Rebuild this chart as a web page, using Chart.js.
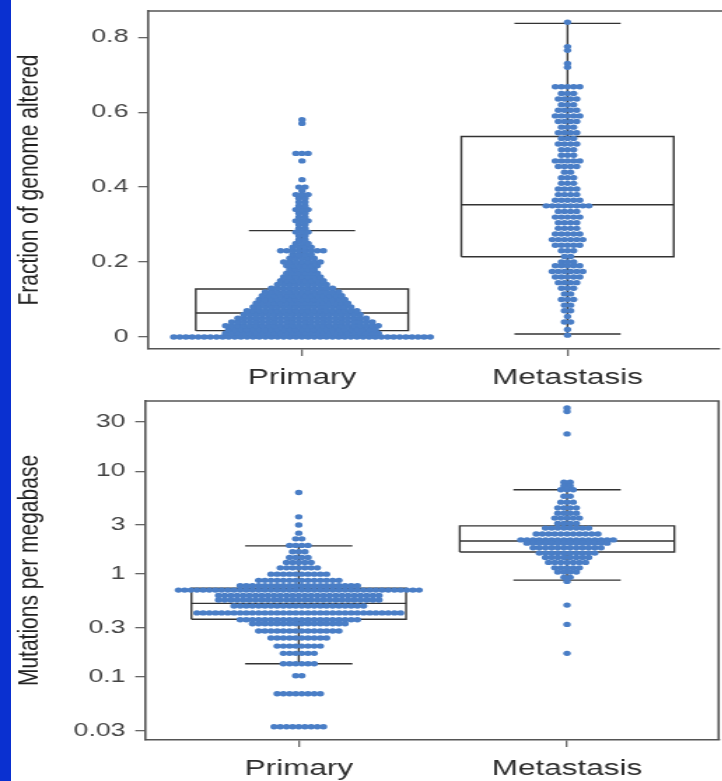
<!DOCTYPE html>
<html>
<head>
<meta charset="utf-8">
<script src="https://cdn.jsdelivr.net/npm/chart.js@4"></script>
<style>
  html, body { margin: 0; padding: 0; background: #fff; overflow: hidden; }
  #page { position: relative; width: 722px; height: 781px; overflow: hidden; background: #fff; }
  #strip { position: absolute; left: 0; top: 0; width: 11px; height: 781px; background: #0a30d0; z-index: 2; }
  /* the reference picture is stretched sideways, so the panels are too */
  .panel { position: absolute; left: 0; transform: scaleX(1.4); transform-origin: 0 0; }
  #top { top: 0; }
  #bottom { top: 390px; }
</style>
</head>
<body>
<div id="page">
  <div class="panel" id="top"><canvas id="fga" width="516" height="392"></canvas></div>
  <div class="panel" id="bottom"><canvas id="tmb" width="516" height="391"></canvas></div>
  <div id="strip"></div>
</div>
<script>
const groups = ['Primary', 'Metastasis'];

// rows of the dot plots: [value, number of samples at that value]
const fgaPrimary = [
  [0, 43], [0.01, 26], [0.02, 25], [0.03, 26], [0.04, 24], [0.05, 22], [0.06, 20],
  [0.07, 19], [0.08, 17], [0.09, 16], [0.10, 15], [0.11, 14], [0.12, 13], [0.13, 11],
  [0.14, 9], [0.15, 8], [0.16, 7], [0.17, 6], [0.18, 5], [0.19, 6], [0.20, 7],
  [0.21, 5], [0.22, 4], [0.23, 8], [0.24, 4], [0.25, 3], [0.26, 2], [0.27, 2],
  [0.28, 3], [0.29, 2], [0.30, 2], [0.31, 3], [0.32, 2], [0.33, 2], [0.34, 3],
  [0.35, 2], [0.36, 2], [0.37, 2], [0.38, 3], [0.39, 1], [0.40, 2], [0.42, 1],
  [0.47, 1], [0.49, 3], [0.57, 1], [0.58, 1]
];
const fgaMetastasis = [
  [0.005, 1], [0.02, 1], [0.04, 2], [0.055, 1], [0.07, 2], [0.085, 2], [0.10, 3],
  [0.115, 2], [0.13, 3], [0.145, 4], [0.16, 5], [0.175, 6], [0.19, 5], [0.20, 3],
  [0.215, 2], [0.23, 3], [0.245, 5], [0.26, 6], [0.275, 5], [0.29, 4], [0.305, 4],
  [0.32, 5], [0.335, 4], [0.35, 8], [0.365, 5], [0.38, 4], [0.395, 4], [0.41, 3],
  [0.425, 3], [0.44, 2], [0.455, 4], [0.47, 5], [0.485, 3], [0.50, 3], [0.515, 4],
  [0.53, 3], [0.545, 4], [0.56, 3], [0.575, 4], [0.59, 5], [0.605, 4], [0.62, 3],
  [0.635, 4], [0.65, 3], [0.668, 5], [0.72, 1], [0.73, 1], [0.765, 1], [0.775, 1],
  [0.84, 1]
];
// box plots: [lower whisker, q1, median, q3, upper whisker]
const fgaBoxPrimary = [0, 0.017, 0.064, 0.128, 0.284];
const fgaBoxMetastasis = [0.008, 0.214, 0.353, 0.535, 0.837];
const fgaTicks = [0, 0.2, 0.4, 0.6, 0.8];

const tmbPrimary = [
  [6.2, 1], [3.6, 1], [3.0, 1], [2.5, 1], [2.2, 2], [1.9, 4], [1.65, 3], [1.45, 4],
  [1.3, 5], [1.15, 7], [1.0, 10], [0.87, 14], [0.77, 20], [0.70, 40], [0.62, 27],
  [0.56, 27], [0.49, 22], [0.42, 34], [0.36, 20], [0.33, 16], [0.28, 14], [0.24, 10],
  [0.20, 8], [0.17, 6], [0.135, 6], [0.103, 2], [0.069, 8], [0.033, 9]
];
const tmbMetastasis = [
  [41, 1], [38, 1], [23, 1], [7.8, 2], [7.2, 2], [6.6, 3], [5.7, 2], [5.0, 3],
  [4.4, 4], [3.9, 4], [3.5, 5], [3.1, 4], [2.8, 8], [2.45, 11], [2.15, 16], [2.0, 14],
  [1.8, 12], [1.6, 10], [1.45, 8], [1.3, 7], [1.15, 5], [1.05, 4], [0.93, 2],
  [0.85, 1], [0.5, 1], [0.325, 1], [0.17, 1]
];
const tmbBoxPrimary = [0.135, 0.364, 0.52, 0.73, 1.88];
const tmbBoxMetastasis = [0.874, 1.64, 2.10, 2.94, 6.6];
const tmbTicks = [0.03, 0.1, 0.3, 1, 3, 10, 30];

const FONT = "'Liberation Sans', Arial, sans-serif";
const DOT_STEP = 0.023;   // spacing of dots in a row, in category units
const BOX_HALF = 0.4;
const CAP_HALF = 0.2;

// lay each row out side by side around the category centre
const swarm = (rows, center) => rows.flatMap(([v, n]) =>
  Array.from({ length: n }, (_, i) => ({ x: center + (i - (n - 1) / 2) * DOT_STEP, y: v })));

const boxLines = (s, c) => {
  const [lo, q1, med, q3, hi] = s;
  const gap = { x: c, y: null };
  return [
    { x: c - BOX_HALF, y: q1 }, { x: c + BOX_HALF, y: q1 }, { x: c + BOX_HALF, y: q3 },
    { x: c - BOX_HALF, y: q3 }, { x: c - BOX_HALF, y: q1 }, gap,
    { x: c - BOX_HALF, y: med }, { x: c + BOX_HALF, y: med }, gap,
    { x: c, y: q3 }, { x: c, y: hi }, gap,
    { x: c - CAP_HALF, y: hi }, { x: c + CAP_HALF, y: hi }, gap,
    { x: c, y: q1 }, { x: c, y: lo }, gap,
    { x: c - CAP_HALF, y: lo }, { x: c + CAP_HALF, y: lo }
  ];
};

const framePlugin = {
  id: 'frame',
  afterDraw(chart, args, opts) {
    const { ctx, chartArea: a } = chart;
    ctx.save();
    ctx.strokeStyle = '#555';
    ctx.lineWidth = 1.6;
    ctx.beginPath();
    ctx.moveTo(a.left, a.top);
    if (opts.open) {
      ctx.lineTo(chart.width, a.top);
    } else {
      ctx.lineTo(a.right, a.top);
      ctx.lineTo(a.right, a.bottom);
    }
    ctx.stroke();
    ctx.restore();
  }
};

function makeChart(id, cfg) {
  const dotSets = [cfg.primary, cfg.metastasis].map((rows, i) => ({
    type: 'scatter',
    data: swarm(rows, i),
    pointRadius: 2.7,
    pointHoverRadius: 0,
    pointBorderWidth: 0,
    pointBackgroundColor: '#4a7ec6',
    order: 1
  }));
  const boxSets = [cfg.boxPrimary, cfg.boxMetastasis].map((s, i) => ({
    type: 'scatter',
    data: boxLines(s, i),
    showLine: true,
    spanGaps: false,
    pointRadius: 0,
    borderColor: '#333',
    borderWidth: 1.4,
    order: 2
  }));

  return new Chart(document.getElementById(id), {
    type: 'scatter',
    data: { datasets: [...boxSets, ...dotSets] },
    plugins: [framePlugin],
    options: {
      responsive: false,
      animation: false,
      events: [],
      layout: { padding: { top: 11, right: cfg.padRight, bottom: 0, left: 0 } },
      plugins: { legend: { display: false }, tooltip: { enabled: false }, frame: { open: cfg.open } },
      scales: {
        x: {
          type: 'linear',
          min: cfg.xMin,
          max: cfg.xMax,
          afterBuildTicks: s => { s.ticks = groups.map((g, i) => ({ value: i })); },
          afterFit: s => { s.height = cfg.xHeight; s.paddingLeft = 0; s.paddingRight = 0; },
          ticks: {
            callback: (v, i) => groups[i],
            autoSkip: false,
            maxRotation: 0,
            padding: 8,
            color: '#2e2e2e',
            font: { family: FONT, size: 22.5 }
          },
          grid: { drawOnChartArea: false, drawTicks: true, tickLength: 7, color: '#666', lineWidth: 1.3 },
          border: { display: true, color: '#555', width: 1.6 }
        },
        y: {
          type: cfg.yType,
          min: cfg.yMin,
          max: cfg.yMax,
          afterBuildTicks: s => { s.ticks = cfg.ticks.map(v => ({ value: v })); },
          afterFit: s => { s.width = cfg.yWidth; s.paddingTop = 0; s.paddingBottom = 0; },
          ticks: {
            callback: v => String(v),
            padding: 7,
            color: '#444',
            font: { family: FONT, size: 19 }
          },
          grid: { drawOnChartArea: false, drawTicks: true, tickLength: 7, color: '#666', lineWidth: 1.3 },
          border: { display: true, color: '#555', width: 1.6 },
          title: {
            display: true,
            text: cfg.title,
            color: '#222',
            padding: { top: 9, bottom: 0 },
            font: { family: FONT, size: 21 }
          }
        }
      }
    }
  });
}

makeChart('fga', {
  primary: fgaPrimary, metastasis: fgaMetastasis,
  boxPrimary: fgaBoxPrimary, boxMetastasis: fgaBoxMetastasis,
  ticks: fgaTicks, title: 'Fraction of genome altered',
  yType: 'linear', yMin: -0.032, yMax: 0.87,
  xMin: -0.58, xMax: 1.569, yWidth: 105.7, xHeight: 43, padRight: 0, open: true
});

makeChart('tmb', {
  primary: tmbPrimary, metastasis: tmbMetastasis,
  boxPrimary: tmbBoxPrimary, boxMetastasis: tmbBoxMetastasis,
  ticks: tmbTicks, title: 'Mutations per megabase',
  yType: 'logarithmic', yMin: 0.0245, yMax: 48,
  xMin: -0.573, xMax: 1.565, yWidth: 103.6, xHeight: 41, padRight: 1.7, open: false
});
</script>
</body>
</html>
